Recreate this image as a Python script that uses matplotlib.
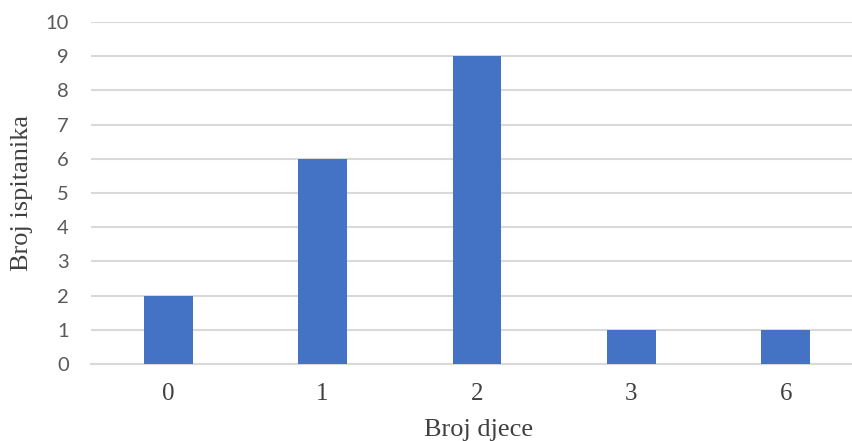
import numpy as np
import matplotlib.pyplot as plt

kategorije = ["0", "1", "2", "3", "6"]
ispitanici = [2, 6, 9, 1, 1]

fig = plt.figure(figsize=(8.52, 4.41), dpi=100)
# desni rub grafa izlazi izvan slike (kao u originalu)
ax = fig.add_axes([91/852, 77/441, 772/852, 342/441])

x = np.arange(len(kategorije))
ax.bar(x, ispitanici, width=0.317, color="#4472c4", zorder=3)

ax.set_xlim(-0.5, len(kategorije) - 0.5)
ax.set_ylim(0, 10)
ax.set_yticks(range(0, 11))
ax.set_xticks(x)
ax.set_xticklabels(kategorije, family="Liberation Serif", fontsize=18, color="#404040")
for t in ax.get_yticklabels():
    t.set_family("Lato")
    t.set_fontsize(14.5)
    t.set_color("#595959")

ax.yaxis.grid(True, color="#d9d9d9", linewidth=1.5, zorder=0)
ax.tick_params(axis="both", length=0)
ax.tick_params(axis="y", pad=16)
ax.tick_params(axis="x", pad=14)
for s in ["top", "right", "left"]:
    ax.spines[s].set_visible(False)
ax.spines["bottom"].set_color("#d9d9d9")
ax.spines["bottom"].set_linewidth(1.5)

fig.text(479/852, 1 - 430/441, "Broj djece", family="Liberation Serif", fontsize=19,
         color="#404040", ha="center", va="center")
fig.text(22/852, 1 - 193/441, "Broj ispitanika", family="Liberation Serif", fontsize=19,
         color="#404040", ha="center", va="center", rotation=90)

plt.savefig("out.png", dpi=100)
